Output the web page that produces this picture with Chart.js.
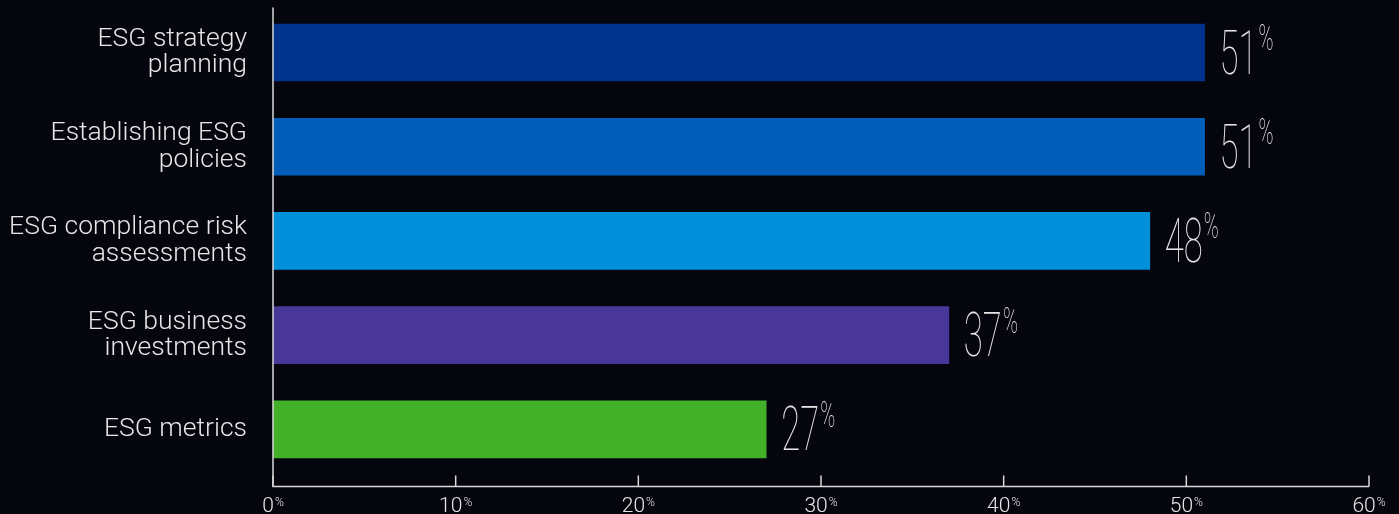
<!DOCTYPE html>
<html>
<head>
<meta charset="utf-8">
<script src="https://cdn.jsdelivr.net/npm/chart.js@4.4.1/dist/chart.umd.min.js"></script>
<style>
  html, body { margin: 0; padding: 0; background: #05050e; }
  #wrap { width: 1399px; height: 514px; position: relative; }
</style>
</head>
<body>
<div id="wrap"><canvas id="graph" width="1399" height="514"></canvas></div>
<script>
const categories = [
  ['ESG strategy', 'planning'],
  ['Establishing ESG', 'policies'],
  ['ESG compliance risk', 'assessments'],
  ['ESG business', 'investments'],
  ['ESG metrics']
];
const values = [51, 51, 48, 37, 27];
const barColors = ['#00338D', '#005EB8', '#0091DA', '#483698', '#43B02A'];
const xTicks = [0, 10, 20, 30, 40, 50, 60];

const axisColor = '#d9d9d9';
const textColor = '#e6e6e6';

// axis lines, upward ticks and "n%" tick labels with a small raised percent sign
const axisPlugin = {
  id: 'axisPlugin',
  afterDraw(chart) {
    const ctx = chart.ctx;
    const area = chart.chartArea;
    const x = chart.scales.x;
    const baseY = area.bottom + 10;
    ctx.save();
    ctx.strokeStyle = axisColor;
    ctx.lineWidth = 1.5;
    ctx.beginPath();
    ctx.moveTo(area.left, area.top + 2);
    ctx.lineTo(area.left, baseY);
    ctx.lineTo(x.getPixelForValue(60), baseY);
    ctx.stroke();
    xTicks.forEach(t => {
      const px = x.getPixelForValue(t);
      ctx.beginPath();
      ctx.moveTo(px, baseY - 11);
      ctx.lineTo(px, baseY);
      ctx.stroke();
      ctx.fillStyle = textColor;
      ctx.textBaseline = 'alphabetic';
      const num = String(t);
      ctx.font = '300 21px Roboto';
      const wNum = ctx.measureText(num).width;
      ctx.font = '300 12px Roboto';
      const wPct = ctx.measureText('%').width;
      const start = px - (wNum + wPct + 1) / 2;
      ctx.font = '300 21px Roboto';
      ctx.fillText(num, start, baseY + 25.5);
      ctx.font = '300 12px Roboto';
      ctx.fillText('%', start + wNum + 1, baseY + 19.5);
    });
    ctx.restore();
  }
};

// large condensed value labels at the end of each bar
const valuePlugin = {
  id: 'valuePlugin',
  afterDatasetsDraw(chart) {
    const ctx = chart.ctx;
    const meta = chart.getDatasetMeta(0);
    const sx = 0.56;
    meta.data.forEach((bar, i) => {
      const num = String(values[i]);
      ctx.save();
      ctx.fillStyle = textColor;
      ctx.textBaseline = 'alphabetic';
      ctx.font = '100 62px Roboto';
      const w = ctx.measureText(num).width * sx;
      ctx.translate(bar.x + 15, bar.y + 21);
      ctx.scale(sx, 1);
      ctx.fillText(num, 0, 0);
      ctx.restore();
      ctx.save();
      ctx.fillStyle = textColor;
      ctx.font = '100 36px Roboto';
      ctx.translate(bar.x + 15 + w + 1, bar.y - 2.5);
      ctx.scale(sx, 1);
      ctx.fillText('%', 0, 0);
      ctx.restore();
    });
  }
};

const graph = new Chart(document.getElementById('graph'), {
  type: 'bar',
  data: {
    labels: categories,
    datasets: [{
      data: values,
      backgroundColor: barColors,
      barThickness: 57,
      borderWidth: 0
    }]
  },
  options: {
    indexAxis: 'y',
    responsive: false,
    animation: false,
    devicePixelRatio: 1,
    layout: { padding: { top: 5.4, right: 30, bottom: 0, left: 0 } },
    plugins: {
      legend: { display: false },
      tooltip: { enabled: false }
    },
    scales: {
      x: {
        min: 0,
        max: 60,
        grid: { display: false },
        border: { display: false },
        ticks: { display: false },
        afterFit(scale) {
          scale.height = 37.5;
          scale.paddingLeft = 0;
          scale.paddingRight = 0;
        }
      },
      y: {
        grid: { display: false },
        border: { display: false },
        ticks: {
          color: textColor,
          padding: 18,
          font: { family: 'Roboto', size: 26.5, weight: 300, lineHeight: 1.0 }
        },
        afterFit(scale) {
          scale.width = 273;
          scale.paddingTop = 0;
          scale.paddingBottom = 0;
        }
      }
    }
  },
  plugins: [axisPlugin, valuePlugin]
});
</script>
</body>
</html>
